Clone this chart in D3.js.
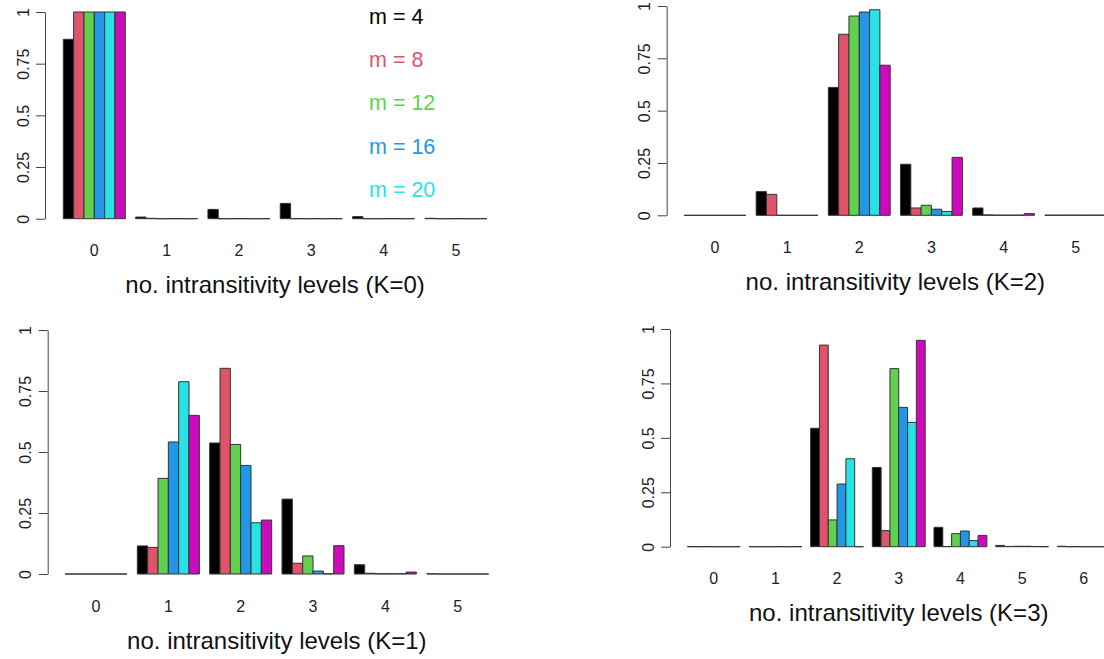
<!DOCTYPE html>
<html>
<head>
<meta charset="utf-8">
<script src="https://cdn.jsdelivr.net/npm/d3@7"></script>
<style>
  body { margin: 0; background: #fff; }
  svg { display: block; font-family: "Liberation Sans", Arial, sans-serif; }
</style>
</head>
<body>
<div id="chart"></div>
<script>
// series (one per m) and their R colours
const series = ["m = 4", "m = 8", "m = 12", "m = 16", "m = 20", "m = 24"];
const colors = ["#000000", "#DF536B", "#61D04F", "#2297E6", "#28E2E5", "#CD0BBC"];
const legendLabels = ["m = 4", "m = 8", "m = 12", "m = 16", "m = 20"];
const yTicks = [0, 0.25, 0.5, 0.75, 1];

// proportions per number of intransitivity levels, rows = levels, cols = series
const levelsK0 = ["0", "1", "2", "3", "4", "5"];
const valuesK0 = [
  [0.868, 1, 1, 1, 1, 1],
  [0.008, 0.002, 0, 0, 0, 0],
  [0.045, 0, 0, 0, 0, 0],
  [0.074, 0, 0, 0, 0, 0],
  [0.01, 0, 0, 0, 0, 0],
  [0.002, 0, 0, 0, 0, 0]
];

const levelsK2 = ["0", "1", "2", "3", "4", "5"];
const valuesK2 = [
  [0, 0, 0, 0, 0, 0],
  [0.113, 0.10, 0, 0, 0, 0],
  [0.611, 0.865, 0.952, 0.971, 0.982, 0.717],
  [0.244, 0.035, 0.048, 0.029, 0.018, 0.277],
  [0.035, 0.002, 0.001, 0.001, 0.001, 0.008],
  [0.001, 0.001, 0.001, 0.001, 0.001, 0.001]
];

const levelsK1 = ["0", "1", "2", "3", "4", "5"];
const valuesK1 = [
  [0, 0, 0, 0, 0, 0],
  [0.115, 0.109, 0.392, 0.541, 0.788, 0.650],
  [0.537, 0.843, 0.531, 0.445, 0.210, 0.221],
  [0.307, 0.044, 0.074, 0.012, 0.001, 0.116],
  [0.038, 0.003, 0.001, 0.001, 0.001, 0.008],
  [0.001, 0, 0, 0, 0, 0]
];

const levelsK3 = ["0", "1", "2", "3", "4", "5", "6"];
const valuesK3 = [
  [0, 0, 0, 0, 0, 0],
  [0, 0, 0, 0, 0, 0],
  [0.544, 0.926, 0.123, 0.288, 0.404, 0],
  [0.364, 0.074, 0.818, 0.640, 0.571, 0.948],
  [0.089, 0.001, 0.060, 0.072, 0.028, 0.052],
  [0.006, 0.001, 0.002, 0.002, 0.001, 0],
  [0.002, 0, 0, 0, 0, 0]
];

const W = 1104, H = 659;

const svg = d3.select("#chart").append("svg")
  .attr("width", W)
  .attr("height", H);

// panel layout: axis x, bars range, y0/y1 pixel positions
const panels = [
  { title: "no. intransitivity levels (K=0)", levels: levelsK0, values: valuesK0,
    axisX: 45, x0: 63.3, x1: 486.9, y0: 218.7, y1: 12 },
  { title: "no. intransitivity levels (K=2)", levels: levelsK2, values: valuesK2,
    axisX: 666.7, x0: 684, x1: 1106.7, y0: 215.3, y1: 6 },
  { title: "no. intransitivity levels (K=1)", levels: levelsK1, values: valuesK1,
    axisX: 47.7, x0: 65, x1: 488.7, y0: 574, y1: 330 },
  { title: "no. intransitivity levels (K=3)", levels: levelsK3, values: valuesK3,
    axisX: 670, x0: 687.3, x1: 1110.2, y0: 546.7, y1: 329 }
];

panels.forEach(function (p) {
  let g = svg.append("g");

  let x = d3.scaleBand()
    .domain(p.levels)
    .range([p.x0, p.x1])
    .paddingInner(1 / 7)
    .paddingOuter(0);

  let xs = d3.scaleBand()
    .domain(d3.range(series.length))
    .range([0, x.bandwidth()]);

  let y = d3.scaleLinear()
    .domain([0, 1])
    .range([p.y0, p.y1]);

  // y axis, R style: line from 0 to 1, rotated labels
  let yAxis = g.append("g")
    .attr("transform", "translate(" + p.axisX + ",0)")
    .call(d3.axisLeft(y).tickValues(yTicks).tickFormat(d3.format("")).tickSize(9).tickSizeOuter(0));
  yAxis.attr("font-size", null).attr("font-family", null);
  yAxis.select(".domain").attr("stroke", "#444");
  yAxis.selectAll(".tick line").attr("stroke", "#444");
  yAxis.selectAll(".tick text")
    .attr("x", null).attr("dy", null)
    .attr("transform", "translate(-22,0) rotate(-90)")
    .attr("text-anchor", "middle")
    .attr("dy", "0.36em")
    .style("font-size", "16px")
    .attr("fill", "#222");

  // bars (paths so that zero-height bars still show as a line)
  let groups = g.selectAll(".grp")
    .data(p.values)
    .enter()
    .append("g")
    .attr("class", "grp")
    .attr("transform", (d, i) => "translate(" + x(p.levels[i]) + ",0)");

  groups.selectAll("path")
    .data(d => d)
    .enter()
    .append("path")
    .attr("d", function (d, i) {
      let bx = xs(i), bw = xs.bandwidth();
      return "M" + bx + "," + y(0) + "V" + y(d) + "H" + (bx + bw) + "V" + y(0) + "Z";
    })
    .attr("fill", (d, i) => colors[i])
    .attr("stroke", "#333")
    .attr("stroke-width", 1);

  // group labels
  g.selectAll(".xlab")
    .data(p.levels)
    .enter()
    .append("text")
    .attr("class", "xlab")
    .attr("x", d => x(d) + x.bandwidth() / 2)
    .attr("y", p.y0 + 37.5)
    .attr("text-anchor", "middle")
    .style("font-size", "16px")
    .attr("fill", "#222")
    .text(d => d);

  // axis title
  g.append("text")
    .attr("x", (p.x0 + p.x1) / 2)
    .attr("y", p.y0 + 74.6)
    .attr("text-anchor", "middle")
    .style("font-size", "24px")
    .attr("fill", "#111")
    .text(p.title);
});

// legend in the first panel
svg.selectAll(".legend")
  .data(legendLabels)
  .enter()
  .append("text")
  .attr("class", "legend")
  .attr("x", 369)
  .attr("y", (d, i) => 24 + i * 43.2)
  .style("font-size", "21.5px")
  .attr("fill", (d, i) => colors[i])
  .text(d => d);
</script>
</body>
</html>
